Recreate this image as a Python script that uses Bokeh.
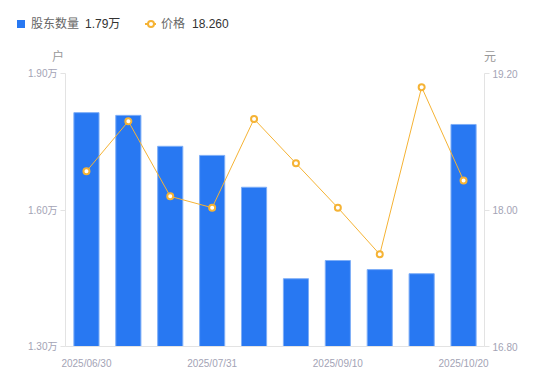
from bokeh.plotting import figure
from bokeh.layouts import column
from bokeh.models import (Range1d, LinearAxis, FixedTicker, PrintfTickFormatter, ColumnDataSource, Div)
from bokeh.embed import file_html
from bokeh.resources import INLINE

dates = ["2025/06/30", "2025/07/10", "2025/07/20", "2025/07/31", "2025/08/15",
         "2025/08/29", "2025/09/10", "2025/09/19", "2025/09/30", "2025/10/20"]
holders = [1.814, 1.808, 1.740, 1.720, 1.650, 1.449, 1.489, 1.469, 1.460, 1.788]
prices = [18.34, 18.78, 18.12, 18.02, 18.80, 18.41, 18.02, 17.61, 19.08, 18.26]
shown_dates = ["2025/06/30", "2025/07/31", "2025/09/10", "2025/10/20"]
left_ticks = [1.30, 1.60, 1.90]
right_ticks = [16.80, 18.00, 19.20]
legend_names = ["股东数量", "价格"]
legend_values = ["1.79万", "18.260"]
unit_labels = ["户", "元"]

FONT = "Liberation Sans, Noto Sans CJK SC"
CSS_FONT = "'Liberation Sans', 'Noto Sans CJK SC', sans-serif"
BLUE = "#2878f2"
BLUE_EDGE = "#7eaef7"
ORANGE = "#f5b335"
TICK_COLOR = "#a3a3b5"
AXIS_COLOR = "#e3e3e3"
W = 548
HEAD_H = 66


def txt(left, top, s, color, align="left", width=None):
    style = (f"position:absolute;left:{left}px;top:{top}px;font-family:{CSS_FONT};"
             f"font-size:12px;line-height:16px;color:{color};white-space:nowrap;")
    if width is not None:
        style += f"width:{width}px;text-align:{align};"
    return f'<div style="{style}">{s}</div>'


# ---------- header: legend + unit labels (HTML) ----------
parts = [
    f'<div style="position:absolute;left:17px;top:20px;width:8px;height:8px;background:{BLUE};"></div>',
    txt(31, 16, legend_names[0], "#666666"),
    txt(85, 16, legend_values[0], "#333333"),
    f'<div style="position:absolute;left:145px;top:23px;width:11px;height:2px;background:{ORANGE};"></div>',
    f'<div style="position:absolute;box-sizing:border-box;left:146.5px;top:20px;width:8px;height:8px;'
    f'border:2px solid {ORANGE};border-radius:50%;background:white;"></div>',
    txt(161, 16, legend_names[1], "#666666"),
    txt(192, 16, legend_values[1], "#333333"),
    txt(48, 49, unit_labels[0], "#999999", align="center", width=20),
    txt(480, 49, unit_labels[1], "#999999", align="center", width=20),
]
head = Div(text=f'<div style="position:relative;width:{W}px;height:{HEAD_H}px;">' + "".join(parts) + "</div>",
           width=W, height=HEAD_H, margin=0)

# ---------- main chart ----------
idx = list(range(len(dates)))
src = ColumnDataSource(dict(i=idx, date=dates, holders=holders, prices=prices))

p = figure(x_range=Range1d(-0.5, len(dates) - 0.5), y_range=Range1d(left_ticks[0], left_ticks[-1]),
           width=W, height=310, output_backend="svg", toolbar_location=None,
           min_border_left=65, min_border_right=64, min_border_top=7, min_border_bottom=30)
p.extra_y_ranges = {"price": Range1d(right_ticks[0], right_ticks[-1])}

p.vbar(x="i", top="holders", bottom=left_ticks[0], width=0.6, source=src,
       fill_color=BLUE, line_color=BLUE_EDGE, line_width=1)
p.line(x="i", y="prices", source=src, y_range_name="price", line_color=ORANGE, line_width=1)
p.scatter(x="i", y="prices", source=src, y_range_name="price", size=6,
          fill_color="white", line_color=ORANGE, line_width=2)

p.outline_line_color = None
p.xgrid.visible = False
p.ygrid.visible = False

xa = p.xaxis[0]
xa.ticker = FixedTicker(ticks=[dates.index(d) for d in shown_dates])
xa.major_label_overrides = {dates.index(d): d for d in shown_dates}
xa.major_tick_line_color = None
xa.minor_tick_line_color = None
xa.axis_line_color = AXIS_COLOR
xa.major_label_text_font_size = "10px"
xa.major_label_text_color = TICK_COLOR
xa.major_label_text_font = FONT
xa.major_label_standoff = 5

ya = p.yaxis[0]
ya.ticker = FixedTicker(ticks=left_ticks)
ya.formatter = PrintfTickFormatter(format="%.2f万")
ya.minor_tick_line_color = None
ya.major_tick_in = 0
ya.major_tick_out = 5
ya.major_tick_line_color = AXIS_COLOR
ya.axis_line_color = AXIS_COLOR
ya.major_label_text_font_size = "10px"
ya.major_label_text_color = TICK_COLOR
ya.major_label_text_font = FONT
ya.major_label_standoff = 3

ra = LinearAxis(y_range_name="price", ticker=FixedTicker(ticks=right_ticks),
                formatter=PrintfTickFormatter(format="%.2f"))
ra.minor_tick_line_color = None
ra.major_tick_in = 0
ra.major_tick_out = 5
ra.major_tick_line_color = AXIS_COLOR
ra.axis_line_color = AXIS_COLOR
ra.major_label_text_font_size = "10px"
ra.major_label_text_color = TICK_COLOR
ra.major_label_text_font = FONT
ra.major_label_standoff = 3
p.add_layout(ra, "right")

layout = column(head, p, spacing=0)
open("out.html", "w").write(file_html(layout, INLINE))
